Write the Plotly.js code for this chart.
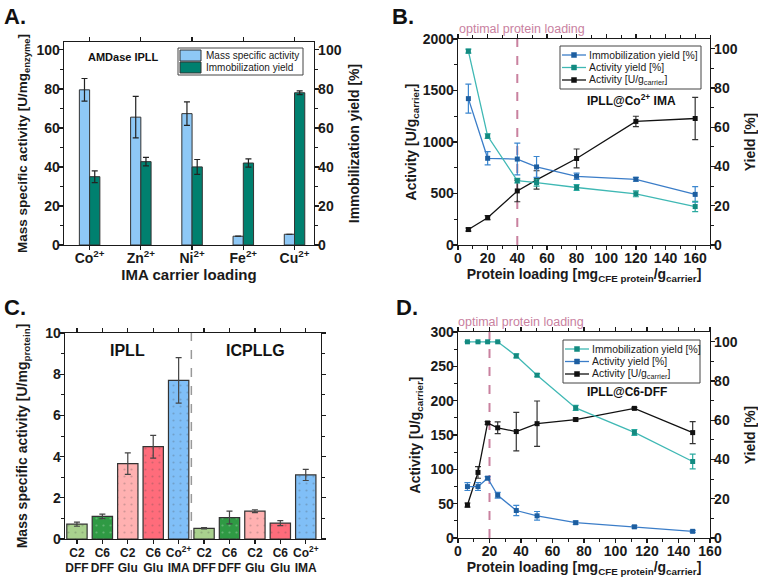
<!DOCTYPE html>
<html><head><meta charset="utf-8">
<script src="https://cdn.plot.ly/plotly-3.0.1.min.js"></script>
<style>html,body{margin:0;padding:0;background:#fff}#chart{width:758px;height:581px}</style>
</head><body><div id="chart"></div>
<script>
// ---------- Panel A data ----------
const metalsA = ['Co<sup>2+</sup>','Zn<sup>2+</sup>','Ni<sup>2+</sup>','Fe<sup>2+</sup>','Cu<sup>2+</sup>'];
const massActA = [79.5, 65.5, 67.3, 4.5, 5.5];
const massActErrA = [5.8, 10.6, 6.0, 0, 0];
const immYieldA = [35, 42.7, 40, 42, 78];
const immYieldErrA = [3, 2.2, 3.8, 2.1, 1];
const seriesA = ['Mass specific activity', 'Immobilization yield'];

// ---------- Panel B data ----------
const loadingB = [7, 20, 40, 53, 80, 120, 160];
const immYieldB = [74.6, 44.2, 43.8, 39.8, 35, 33.5, 25.8];
const immYieldErrB = [7.4, 3.4, 8.1, 5.3, 1.6, 1, 4];
const actYieldB = [98.8, 55.5, 32.8, 31.8, 29.3, 26.1, 19.6];
const actYieldErrB = [1, 1.2, 1.2, 1.8, 1.5, 1.5, 2.6];
const activityB = [150, 265, 525, 632, 840, 1200, 1228];
const activityErrB = [15, 20, 105, 89, 92, 50, 205];
const optimalB = 40;
const seriesB = ['Immobilization yield [%]', 'Activity yield [%]', 'Activity [U/g<sub>carrier</sub>]'];

// ---------- Panel C data ----------
const labelsC = ['C2<br>DFF','C6<br>DFF','C2<br>Glu','C6<br>Glu','Co<sup>2+</sup><br>IMA',
                 'C2<br>DFF','C6<br>DFF','C2<br>Glu','C6<br>Glu','Co<sup>2+</sup><br>IMA'];
const valuesC = [0.72, 1.1, 3.66, 4.48, 7.7, 0.52, 1.04, 1.35, 0.77, 3.11];
const errC = [0.1, 0.11, 0.52, 0.55, 1.1, 0.03, 0.31, 0.07, 0.12, 0.27];
const groupsC = ['IPLL', 'ICPLLG'];
const groupSplitC = 4.5;

// ---------- Panel D data ----------
const loadingD = [6, 12.7, 18.8, 25.2, 37, 50.2, 74.7, 112, 149];
const immYieldD = [100, 100, 100, 100, 92.8, 83, 66.3, 53.8, 39];
const immYieldErrD = [0, 0, 0, 0, 1, 0.8, 1.3, 1.5, 3.8];
const actYieldD = [26.2, 26.2, 30.5, 21.8, 14, 11.3, 7.8, 5.7, 3.4];
const actYieldErrD = [2, 2, 0.8, 1.5, 2.6, 2.2, 0.8, 0.6, 0.5];
const activityD = [48, 95.5, 167.5, 160.5, 155, 166.5, 172.5, 188.8, 153.5];
const activityErrD = [3, 8.5, 2, 8.5, 28, 33, 2, 1.5, 16];
const optimalD = 20;
const seriesD = ['Immobilization yield [%]', 'Activity yield [%]', 'Activity [U/g<sub>carrier</sub>]'];

// ---------- styles ----------
const colorsC = ['#a9d18e','#2f9a44','#ffb1b1','#ff6c7b','#80bff7','#a9d18e','#2f9a44','#ffb1b1','#ff6c7b','#80bff7'];
const F = 'Liberation Sans, Arial, sans-serif';
const W = 758, H = 581;
const px = v => v / W;
const py = v => 1 - v / H;
const ink = '#1a1a1a';
const blueLine = '#3b7dc8', blueMark = '#1d5ea0';
const tealLine = '#3fb8b4', tealMark = '#138a80';
const barBlue = '#8ec8f6', barTeal = '#00806f';
const pink = '#c9819f';

function ax(extra) {
  return Object.assign({
    showline: true, linecolor: ink, linewidth: 1.3,
    ticks: 'outside', ticklen: 4, tickwidth: 1.3, tickcolor: ink, ticklabelstandoff: -4,
    tickfont: {family: F, size: 14, weight: 'bold', color: ink},
    showgrid: false, zeroline: false
  }, extra);
}
function ttl(t, size) { return {text: t, font: {family: F, size: size || 14, weight: 'bold', color: ink}}; }
function minor(d) { return {ticks: 'outside', ticklen: 2.5, tickwidth: 1, tickcolor: ink, dtick: d, showgrid: false}; }
function err(a, c) { return {type: 'data', array: a, visible: true, color: c, thickness: 1.2, width: 3}; }

const idxC = labelsC.map((_, i) => i);

const traces = [
  // A
  {type: 'bar', name: seriesA[0], x: metalsA, y: massActA, xaxis: 'x', yaxis: 'y',
   width: 0.2, offset: -0.2, marker: {color: barBlue, line: {color: '#333', width: 1}},
   error_y: err(massActErrA, '#222'), showlegend: false},
  {type: 'bar', name: seriesA[1], x: metalsA, y: immYieldA, xaxis: 'x', yaxis: 'y2',
   width: 0.2, offset: 0, marker: {color: barTeal, line: {color: '#333', width: 1}},
   error_y: err(immYieldErrA, '#222'), showlegend: false},
  // B
  {type: 'scatter', mode: 'lines+markers', name: seriesB[0], x: loadingB, y: immYieldB,
   xaxis: 'x2', yaxis: 'y4', line: {color: blueLine, width: 1.3}, marker: {symbol: 'square', size: 5, color: blueMark},
   error_y: err(immYieldErrB, '#3b86cf'), showlegend: false},
  {type: 'scatter', mode: 'lines+markers', name: seriesB[1], x: loadingB, y: actYieldB,
   xaxis: 'x2', yaxis: 'y4', line: {color: tealLine, width: 1.3}, marker: {symbol: 'square', size: 5, color: tealMark},
   error_y: err(actYieldErrB, '#2aaaa0'), showlegend: false},
  {type: 'scatter', mode: 'lines+markers', name: seriesB[2], x: loadingB, y: activityB,
   xaxis: 'x2', yaxis: 'y3', line: {color: '#111', width: 1.3}, marker: {symbol: 'square', size: 5, color: '#111'},
   error_y: err(activityErrB, '#333'), showlegend: false},
  // C
  {type: 'bar', x: idxC, y: valuesC, xaxis: 'x3', yaxis: 'y5', width: 0.8, showlegend: false,
   marker: {color: colorsC, line: {color: '#333', width: 1.2},
            pattern: {shape: '.', fillmode: 'overlay', fgcolor: '#7f86c8', fgopacity: 0.25, size: 7, solidity: 0.08}},
   error_y: err(errC, '#444')},
  // D
  {type: 'scatter', mode: 'lines+markers', name: seriesD[0], x: loadingD, y: immYieldD,
   xaxis: 'x4', yaxis: 'y7', line: {color: tealLine, width: 1.3}, marker: {symbol: 'square', size: 5, color: tealMark},
   error_y: err(immYieldErrD, '#2aaaa0'), showlegend: false},
  {type: 'scatter', mode: 'lines+markers', name: seriesD[1], x: loadingD, y: actYieldD,
   xaxis: 'x4', yaxis: 'y7', line: {color: blueLine, width: 1.3}, marker: {symbol: 'square', size: 5, color: blueMark},
   error_y: err(actYieldErrD, '#3b86cf'), showlegend: false},
  {type: 'scatter', mode: 'lines+markers', name: seriesD[2], x: loadingD, y: activityD,
   xaxis: 'x4', yaxis: 'y6', line: {color: '#111', width: 1.3}, marker: {symbol: 'square', size: 5, color: '#111'},
   error_y: err(activityErrD, '#333'), showlegend: false}
];

// ---------- compact legends (Origin style) ----------
const shapes = [];
const anns = [];
function rectPx(x0, y0, x1, y1, fill, lc, lw) {
  shapes.push({type: 'rect', xref: 'paper', yref: 'paper', x0: px(x0), x1: px(x1), y0: py(y1), y1: py(y0),
               fillcolor: fill, line: {color: lc, width: lw}, layer: 'above'});
}
function linePx(x0, x1, y, c) {
  shapes.push({type: 'line', xref: 'paper', yref: 'paper', x0: px(x0), x1: px(x1), y0: py(y), y1: py(y),
               line: {color: c, width: 1.3}, layer: 'above'});
}
function textPx(t, x, y, size) {
  anns.push({xref: 'paper', yref: 'paper', x: px(x), y: py(y), text: t, showarrow: false,
             xanchor: 'left', yanchor: 'middle', font: {family: F, size: size, color: ink}});
}
// A legend
rectPx(178, 48, 303, 75, '#fff', '#444', 1);
[[seriesA[0], barBlue], [seriesA[1], barTeal]].forEach((e, i) => {
  const yc = 55.5 + i * 12;
  rectPx(180, yc - 5.5, 201, yc + 5.5, e[1], '#333', 1);
  textPx(e[0], 204, yc, 10);
});
// B / D legends
function lineLegend(x0, y0, x1, y1, names, lineCols, markCols) {
  rectPx(x0, y0, x1, y1, '#fff', '#444', 1);
  names.forEach((n, i) => {
    const yc = y0 + 9 + i * 12.5;
    linePx(x0 + 2, x0 + 26, yc, lineCols[i]);
    rectPx(x0 + 11.5, yc - 2.5, x0 + 16.5, yc + 2.5, markCols[i], markCols[i], 0.5);
    textPx(n, x0 + 27, yc, 10.4);
  });
}
lineLegend(560, 46, 701, 89, seriesB, [blueLine, tealLine, '#111'], [blueMark, tealMark, '#111']);
lineLegend(563, 340, 700, 383, seriesD, [tealLine, blueLine, '#111'], [tealMark, blueMark, '#111']);

const loadTitle = 'Protein loading [mg<sub>CFE protein</sub>/g<sub>carrier</sub>]';

const layout = {
  width: W, height: H, margin: {l: 0, r: 0, t: 0, b: 0},
  paper_bgcolor: '#fff', plot_bgcolor: 'rgba(0,0,0,0)',
  font: {family: F, color: ink},
  barmode: 'overlay', showlegend: false,
  // A
  xaxis: ax({domain: [px(64), px(314)], anchor: 'y', type: 'category', range: [-0.5, 4.38], mirror: 'ticks',
             title: Object.assign(ttl('IMA carrier loading', 15), {standoff: 2})}),
  yaxis: ax({domain: [py(245), py(42)], anchor: 'x', range: [0, 104], dtick: 20, minor: minor(10),
             title: ttl('Mass specific activity [U/mg<sub>enzyme</sub>]', 13.5)}),
  yaxis2: ax({overlaying: 'y', side: 'right', anchor: 'x', range: [0, 104], dtick: 20, minor: minor(10),
              title: ttl('Immobilization yield [%]')}),
  // B
  xaxis2: ax({domain: [px(458), px(710)], anchor: 'y3', range: [0, 170], dtick: 20, minor: minor(10), mirror: 'ticks',
              title: Object.assign(ttl(loadTitle, 14), {standoff: 2})}),
  yaxis3: ax({domain: [py(245), py(39)], anchor: 'x2', range: [0, 2000], dtick: 500, minor: minor(250),
              title: ttl('Activity [U/g<sub>carrier</sub>]')}),
  yaxis4: ax({overlaying: 'y3', side: 'right', anchor: 'x2', range: [0, 105], dtick: 20, minor: minor(10),
              title: ttl('Yield [%]')}),
  // C
  xaxis3: ax({domain: [px(65), px(321)], anchor: 'y5', range: [-0.47, 9.6], tickvals: idxC, ticktext: labelsC,
              tickangle: 0, ticklabelstandoff: -2, tickfont: {family: F, size: 12, weight: 'bold', color: ink}, mirror: 'ticks'}),
  yaxis5: ax({domain: [py(539), py(333)], anchor: 'x3', range: [0, 10], dtick: 2, minor: minor(1), mirror: 'ticks',
              title: ttl('Mass specific activity [U/mg<sub>protein</sub>]')}),
  // D
  xaxis4: ax({domain: [px(458), px(710)], anchor: 'y6', range: [0, 160], dtick: 20, minor: minor(10), mirror: 'ticks',
              title: Object.assign(ttl(loadTitle, 14), {standoff: 2})}),
  yaxis6: ax({domain: [py(538), py(332)], anchor: 'x4', range: [0, 300], dtick: 50, minor: minor(25),
              title: ttl('Activity [U/g<sub>carrier</sub>]')}),
  yaxis7: ax({overlaying: 'y6', side: 'right', anchor: 'x4', range: [0, 105], dtick: 20, minor: minor(10),
              title: ttl('Yield [%]')}),
  shapes: [
    {type: 'line', xref: 'x2', yref: 'y3 domain', x0: optimalB, x1: optimalB, y0: 0, y1: 1,
     line: {color: pink, width: 2, dash: 'dash'}, layer: 'below'},
    {type: 'line', xref: 'x4', yref: 'y6 domain', x0: optimalD, x1: optimalD, y0: 0, y1: 1,
     line: {color: pink, width: 2, dash: 'dash'}, layer: 'below'},
    {type: 'line', xref: 'x3', yref: 'y5 domain', x0: groupSplitC, x1: groupSplitC, y0: 0, y1: 1,
     line: {color: '#999', width: 1.5, dash: 'dash'}, layer: 'below'}
  ].concat(shapes),
  annotations: [
    {text: 'A.', x: px(2), y: py(2)},
    {text: 'B.', x: px(390), y: py(2)},
    {text: 'C.', x: px(2), y: py(293)},
    {text: 'D.', x: px(394), y: py(293)}
  ].map(a => Object.assign({xref: 'paper', yref: 'paper', xanchor: 'left', yanchor: 'top', showarrow: false,
                            font: {family: F, size: 22, weight: 'bold', color: '#111'}}, a)).concat([
    {text: 'AMDase IPLL', x: px(123), y: py(57), size: 11},
    {text: 'IPLL@Co<sup>2+</sup> IMA', x: px(631), y: py(100), size: 12},
    {text: 'IPLL@C6-DFF', x: px(627), y: py(392), size: 12},
    {text: groupsC[0], x: px(127), y: py(350), size: 16},
    {text: groupsC[1], x: px(255), y: py(350), size: 16}
  ].map(a => ({xref: 'paper', yref: 'paper', x: a.x, y: a.y, text: a.text, showarrow: false,
               xanchor: 'center', yanchor: 'middle',
               font: {family: F, size: a.size, weight: 'bold', color: '#111'}}))).concat([
    {x: px(457), y: py(29)}, {x: px(456), y: py(322)}
  ].map(a => ({xref: 'paper', yref: 'paper', x: a.x, y: a.y, text: 'optimal protein loading', showarrow: false,
               xanchor: 'left', yanchor: 'middle', font: {family: F, size: 12.5, color: pink}}))).concat(anns)
};

Plotly.newPlot('chart', traces, layout, {displayModeBar: false, staticPlot: true});
</script></body></html>
